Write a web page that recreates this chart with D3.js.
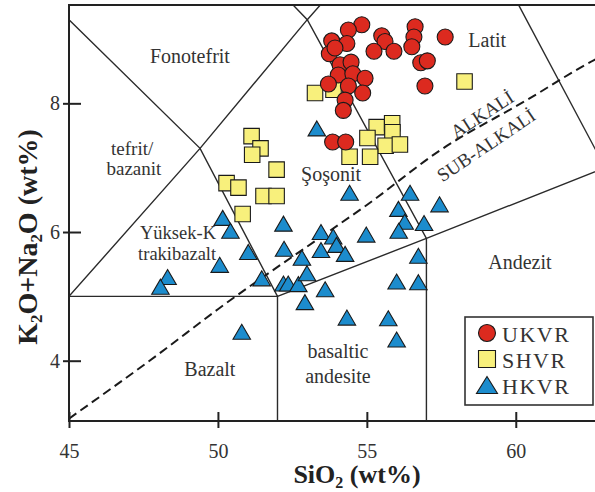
<!DOCTYPE html>
<html>
<head>
<meta charset="utf-8">
<script src="https://cdnjs.cloudflare.com/ajax/libs/d3/7.8.5/d3.min.js"></script>
<style>
  body { margin: 0; background: #fff; }
  svg { display: block; font-family: "Liberation Serif", "Times New Roman", serif; }
</style>
</head>
<body>
<svg id="chart"></svg>
<script>
// samples: [SiO2, K2O+Na2O]
let ukvr = [
  [54.83, 9.22], [54.38, 9.14], [53.82, 8.97], [54.33, 8.93], [55.50, 9.05],
  [55.61, 8.96], [55.24, 8.81], [55.91, 8.81], [56.62, 9.19], [56.58, 9.03],
  [56.51, 8.88], [57.63, 9.03], [53.74, 8.77], [53.93, 8.86], [54.10, 8.60],
  [54.47, 8.64], [54.04, 8.44], [54.53, 8.46], [54.94, 8.39], [53.71, 8.30],
  [54.38, 8.27], [54.86, 8.16], [54.27, 8.05], [54.21, 7.89], [56.81, 8.63],
  [57.03, 8.66], [56.95, 8.27], [53.85, 7.40], [54.29, 7.40]
];
let shvr = [
  [51.13, 7.49], [51.43, 7.30], [51.15, 7.20], [51.97, 6.97], [50.29, 6.76],
  [50.69, 6.69], [51.53, 6.56], [51.97, 6.56], [50.83, 6.28], [53.26, 8.16],
  [53.88, 8.21], [58.28, 8.34], [55.33, 7.63], [55.85, 7.69], [55.86, 7.55],
  [55.02, 7.46], [55.63, 7.34], [56.11, 7.36], [54.42, 7.17], [55.11, 7.17]
];
let hkvr = [
  [50.16, 6.22], [50.42, 6.02], [51.02, 5.69], [50.06, 5.49], [48.31, 5.30],
  [48.07, 5.15], [52.20, 6.13], [52.22, 5.74], [52.82, 5.60], [51.47, 5.28],
  [52.20, 5.20], [52.36, 5.20], [52.70, 5.19], [52.99, 5.36], [52.92, 4.91],
  [50.80, 4.45], [54.42, 6.61], [56.45, 6.61], [56.06, 6.36], [57.44, 6.43],
  [56.27, 6.16], [56.92, 6.14], [56.07, 6.02], [53.46, 6.00], [53.87, 5.93],
  [54.98, 5.96], [53.46, 5.72], [53.98, 5.80], [54.27, 5.66], [56.73, 5.63],
  [56.00, 5.23], [56.73, 5.22], [53.60, 5.11], [54.33, 4.67], [55.72, 4.66],
  [56.00, 4.33], [53.32, 7.61]
];

// TAS field boundaries
let fieldLines = [
  [[45, 9.3], [49.4, 7.3], [52, 5], [57, 5.9], [63, 7]],
  [[45, 5], [49.4, 7.3], [53, 9.3], [57.6, 11.7]],
  [[48.4, 11.5], [53, 9.3], [57, 5.9], [57, 3]],
  [[45, 5], [52, 5], [52, 3]],
  [[57.6, 11.7], [63, 7]]
];
// alkaline / sub-alkaline divide
let alkaliDivide = [
  [45, 3.1], [48, 4.1], [50, 4.8], [53.7, 6.0], [55, 6.42],
  [57.46, 7.27], [60.37, 8.05], [62.66, 8.68], [63, 8.76]
];

let xTicks = [45, 50, 55, 60];
let yTicks = [4, 6, 8];

let fieldLabels = [
  { t: "Fonotefrit", x: 49.06, y: 8.63, s: 20 },
  { t: "Latit", x: 59.04, y: 8.88, s: 20 },
  { t: "tefrit/", x: 47.12, y: 7.19, s: 19 },
  { t: "bazanit", x: 47.18, y: 6.88, s: 19 },
  { t: "Şoşonit", x: 53.80, y: 6.79, s: 20 },
  { t: "Yüksek-K", x: 48.66, y: 5.89, s: 18.5 },
  { t: "trakibazalt", x: 48.63, y: 5.57, s: 18.5 },
  { t: "Andezit", x: 60.14, y: 5.42, s: 20 },
  { t: "Bazalt", x: 49.73, y: 3.76, s: 20 },
  { t: "basaltic", x: 54.03, y: 4.04, s: 20 },
  { t: "andesite", x: 54.03, y: 3.65, s: 20 }
];

let width = 595, height = 492;
let mLeft = 69, mRight = 595, mTop = 5, mBottom = 421;

let svg = d3.select('#chart')
    .attr('width', width)
    .attr('height', height);

let x = d3.scaleLinear().domain([45, 62.66]).range([mLeft, mRight]);
let y = d3.scaleLinear().domain([3.063, 9.528]).range([mBottom, mTop]);

svg.append('clipPath').attr('id', 'plot')
  .append('rect')
    .attr('x', mLeft).attr('y', mTop)
    .attr('width', mRight - mLeft).attr('height', mBottom - mTop);

let lineGen = d3.line().x(d => x(d[0])).y(d => y(d[1]));

let fields = svg.append('g').attr('clip-path', 'url(#plot)');

fields.selectAll('path.field')
    .data(fieldLines)
    .enter()
    .append('path')
    .attr('class', 'field')
    .attr('d', lineGen)
    .attr('fill', 'none')
    .attr('stroke', '#2a2a2a')
    .attr('stroke-width', 1.4);

fields.append('path')
    .datum(alkaliDivide)
    .attr('d', lineGen.curve(d3.curveMonotoneX))
    .attr('fill', 'none')
    .attr('stroke', '#1a1a1a')
    .attr('stroke-width', 2)
    .attr('stroke-dasharray', '9,5');

// field names
svg.append('g').selectAll('text')
    .data(fieldLabels)
    .enter()
    .append('text')
    .attr('x', d => x(d.x))
    .attr('y', d => y(d.y))
    .attr('text-anchor', 'middle')
    .attr('font-size', d => d.s)
    .attr('fill', '#333')
    .text(d => d.t);

svg.append('text')
    .attr('transform', 'translate(' + x(58.87) + ',' + y(7.83) + ') rotate(-33)')
    .attr('text-anchor', 'middle')
    .attr('dy', '0.35em')
    .attr('font-size', 19)
    .attr('fill', '#333')
    .text('ALKALİ');

svg.append('text')
    .attr('transform', 'translate(' + x(59.0) + ',' + y(7.35) + ') rotate(-34)')
    .attr('text-anchor', 'middle')
    .attr('dy', '0.35em')
    .attr('font-size', 19)
    .attr('fill', '#333')
    .text('SUB-ALKALİ');

// frame
svg.append('path')
    .attr('d', 'M' + mRight + ',' + mTop + 'H' + mLeft + 'V' + mBottom + 'H' + mRight)
    .attr('fill', 'none')
    .attr('stroke', '#222')
    .attr('stroke-width', 2);

// axes
let xAxis = svg.append('g')
    .attr('transform', 'translate(0,' + mBottom + ')')
    .call(d3.axisBottom(x).tickValues(xTicks).tickSize(7).tickPadding(16).tickFormat(d3.format('d')));
xAxis.select('.domain').remove();
xAxis.selectAll('line').attr('y1', -9).attr('stroke', '#222').attr('stroke-width', 2);
xAxis.selectAll('text').attr('font-size', 20).attr('fill', '#333')
    .attr('font-family', '"Liberation Serif", serif');

let yAxis = svg.append('g')
    .attr('transform', 'translate(' + mLeft + ',0)')
    .call(d3.axisLeft(y).tickValues(yTicks).tickSize(6).tickPadding(3).tickFormat(d3.format('d')));
yAxis.select('.domain').remove();
yAxis.selectAll('line').attr('x1', 12).attr('stroke', '#222').attr('stroke-width', 2);
yAxis.selectAll('text').attr('font-size', 20).attr('fill', '#333')
    .attr('font-family', '"Liberation Serif", serif');

// axis titles
let xt = svg.append('text')
    .attr('x', 357).attr('y', 483)
    .attr('text-anchor', 'middle')
    .attr('font-size', 26).attr('font-weight', 'bold').attr('fill', '#222');
xt.append('tspan').text('SiO');
xt.append('tspan').attr('font-size', 16).attr('dy', 5).text('2');
xt.append('tspan').attr('dy', -5).text(' (wt%)');

let yt = svg.append('text')
    .attr('transform', 'translate(37,237) rotate(-90)')
    .attr('text-anchor', 'middle')
    .attr('font-size', 28).attr('font-weight', 'bold').attr('fill', '#222');
yt.append('tspan').text('K');
yt.append('tspan').attr('font-size', 17).attr('dy', 5).text('2');
yt.append('tspan').attr('dy', -5).text('O+Na');
yt.append('tspan').attr('font-size', 17).attr('dy', 5).text('2');
yt.append('tspan').attr('dy', -5).text('O (wt%)');

// markers
let triPath = (w, h) => 'M0,' + (-h / 2) + 'L' + (w / 2) + ',' + (h / 2) + 'L' + (-w / 2) + ',' + (h / 2) + 'Z';
let sqPath = s => 'M' + (-s / 2) + ',' + (-s / 2) + 'h' + s + 'v' + s + 'h' + (-s) + 'Z';

let colors = { ukvr: '#dc2a1f', shvr: '#f8f07c', hkvr: '#1c8ccd' };

svg.append('g').selectAll('path')
    .data(hkvr)
    .enter()
    .append('path')
    .attr('d', triPath(17.5, 15))
    .attr('transform', d => 'translate(' + x(d[0]) + ',' + y(d[1]) + ')')
    .attr('fill', colors.hkvr)
    .attr('stroke', '#1a1a1a')
    .attr('stroke-width', 1.1);

svg.append('g').selectAll('path')
    .data(shvr)
    .enter()
    .append('path')
    .attr('d', sqPath(15.5))
    .attr('transform', d => 'translate(' + x(d[0]) + ',' + y(d[1]) + ')')
    .attr('fill', colors.shvr)
    .attr('stroke', '#1a1a1a')
    .attr('stroke-width', 1.1);

svg.append('g').selectAll('circle')
    .data(ukvr)
    .enter()
    .append('circle')
    .attr('cx', d => x(d[0]))
    .attr('cy', d => y(d[1]))
    .attr('r', 8)
    .attr('fill', colors.ukvr)
    .attr('stroke', '#1a1a1a')
    .attr('stroke-width', 1.1);

// legend
let legend = svg.append('g');
legend.append('rect')
    .attr('x', 465).attr('y', 317).attr('width', 128).attr('height', 88)
    .attr('fill', '#fff').attr('stroke', '#333').attr('stroke-width', 1.6);

let legendItems = [
  { name: 'UKVR', key: 'ukvr' },
  { name: 'SHVR', key: 'shvr' },
  { name: 'HKVR', key: 'hkvr' }
];
legendItems.forEach(function(d, i) {
  let cy = 333 + i * 26;
  let g = legend.append('g').attr('transform', 'translate(487,' + cy + ')');
  if (d.key === 'ukvr') {
    g.append('circle').attr('r', 8.5);
  } else if (d.key === 'shvr') {
    g.append('path').attr('d', sqPath(17));
  } else {
    g.append('path').attr('d', triPath(21, 17));
  }
  g.selectAll('*').attr('fill', colors[d.key]).attr('stroke', '#1a1a1a').attr('stroke-width', 1.1);
  legend.append('text')
    .attr('x', 502).attr('y', cy + 8.5)
    .attr('font-size', 22)
    .attr('letter-spacing', 1.5)
    .attr('fill', '#333')
    .text(d.name);
});
</script>
</body>
</html>
